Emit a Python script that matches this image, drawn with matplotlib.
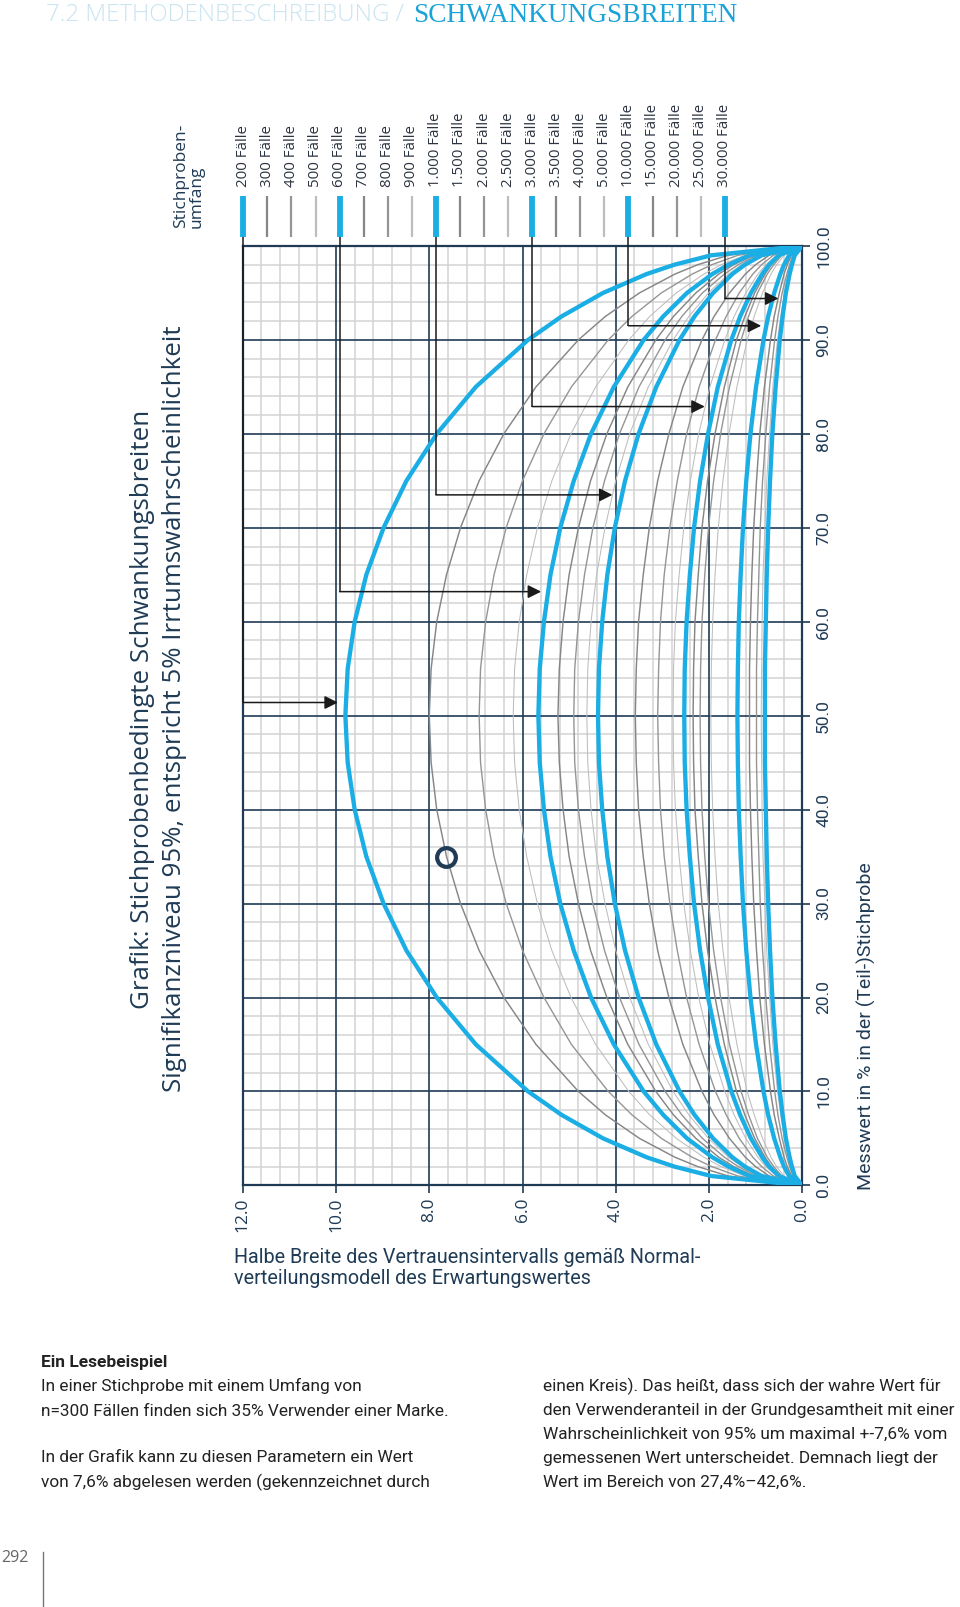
import matplotlib
matplotlib.use("Agg")
import matplotlib.pyplot as plt
import numpy as np

# ---------------- data ----------------
MESSWERT = [0, 1, 2, 3, 5, 7.5, 10, 15, 20, 25, 30, 35, 40, 45, 50,
            55, 60, 65, 70, 75, 80, 85, 90, 92.5, 95, 97, 98, 99, 100]

W_200 = [0, 1.95, 2.74, 3.34, 4.27, 5.16, 5.88, 7.00, 7.84, 8.49, 8.98, 9.35, 9.60, 9.75, 9.80, 9.75, 9.60, 9.35, 8.98, 8.49, 7.84, 7.00, 5.88, 5.16, 4.27, 3.34, 2.74, 1.95, 0]
W_300 = [0, 1.59, 2.24, 2.73, 3.49, 4.22, 4.80, 5.71, 6.40, 6.93, 7.33, 7.63, 7.84, 7.96, 8.00, 7.96, 7.84, 7.63, 7.33, 6.93, 6.40, 5.71, 4.80, 4.22, 3.49, 2.73, 2.24, 1.59, 0]
W_400 = [0, 1.38, 1.94, 2.36, 3.02, 3.65, 4.16, 4.95, 5.54, 6.00, 6.35, 6.61, 6.79, 6.90, 6.93, 6.90, 6.79, 6.61, 6.35, 6.00, 5.54, 4.95, 4.16, 3.65, 3.02, 2.36, 1.94, 1.38, 0]
W_500 = [0, 1.23, 1.74, 2.11, 2.70, 3.27, 3.72, 4.43, 4.96, 5.37, 5.68, 5.91, 6.07, 6.17, 6.20, 6.17, 6.07, 5.91, 5.68, 5.37, 4.96, 4.43, 3.72, 3.27, 2.70, 2.11, 1.74, 1.23, 0]
W_600 = [0, 1.13, 1.58, 1.93, 2.47, 2.98, 3.40, 4.04, 4.53, 4.90, 5.19, 5.40, 5.54, 5.63, 5.66, 5.63, 5.54, 5.40, 5.19, 4.90, 4.53, 4.04, 3.40, 2.98, 2.47, 1.93, 1.58, 1.13, 0]
W_700 = [0, 1.04, 1.47, 1.79, 2.28, 2.76, 3.14, 3.74, 4.19, 4.54, 4.80, 5.00, 5.13, 5.21, 5.24, 5.21, 5.13, 5.00, 4.80, 4.54, 4.19, 3.74, 3.14, 2.76, 2.28, 1.79, 1.47, 1.04, 0]
W_800 = [0, 0.98, 1.37, 1.67, 2.14, 2.58, 2.94, 3.50, 3.92, 4.24, 4.49, 4.67, 4.80, 4.88, 4.90, 4.88, 4.80, 4.67, 4.49, 4.24, 3.92, 3.50, 2.94, 2.58, 2.14, 1.67, 1.37, 0.98, 0]
W_900 = [0, 0.92, 1.29, 1.58, 2.01, 2.43, 2.77, 3.30, 3.70, 4.00, 4.23, 4.41, 4.53, 4.60, 4.62, 4.60, 4.53, 4.41, 4.23, 4.00, 3.70, 3.30, 2.77, 2.43, 2.01, 1.58, 1.29, 0.92, 0]
W_1000 = [0, 0.87, 1.23, 1.50, 1.91, 2.31, 2.63, 3.13, 3.51, 3.80, 4.02, 4.18, 4.29, 4.36, 4.38, 4.36, 4.29, 4.18, 4.02, 3.80, 3.51, 3.13, 2.63, 2.31, 1.91, 1.50, 1.23, 0.87, 0]
W_1500 = [0, 0.71, 1.00, 1.22, 1.56, 1.89, 2.15, 2.56, 2.86, 3.10, 3.28, 3.41, 3.51, 3.56, 3.58, 3.56, 3.51, 3.41, 3.28, 3.10, 2.86, 2.56, 2.15, 1.89, 1.56, 1.22, 1.00, 0.71, 0]
W_2000 = [0, 0.62, 0.87, 1.06, 1.35, 1.63, 1.86, 2.21, 2.48, 2.68, 2.84, 2.96, 3.04, 3.08, 3.10, 3.08, 3.04, 2.96, 2.84, 2.68, 2.48, 2.21, 1.86, 1.63, 1.35, 1.06, 0.87, 0.62, 0]
W_2500 = [0, 0.55, 0.78, 0.95, 1.21, 1.46, 1.66, 1.98, 2.22, 2.40, 2.54, 2.64, 2.72, 2.76, 2.77, 2.76, 2.72, 2.64, 2.54, 2.40, 2.22, 1.98, 1.66, 1.46, 1.21, 0.95, 0.78, 0.55, 0]
W_3000 = [0, 0.50, 0.71, 0.86, 1.10, 1.33, 1.52, 1.81, 2.02, 2.19, 2.32, 2.41, 2.48, 2.52, 2.53, 2.52, 2.48, 2.41, 2.32, 2.19, 2.02, 1.81, 1.52, 1.33, 1.10, 0.86, 0.71, 0.50, 0]
W_3500 = [0, 0.47, 0.66, 0.80, 1.02, 1.23, 1.41, 1.67, 1.87, 2.03, 2.15, 2.23, 2.30, 2.33, 2.34, 2.33, 2.30, 2.23, 2.15, 2.03, 1.87, 1.67, 1.41, 1.23, 1.02, 0.80, 0.66, 0.47, 0]
W_4000 = [0, 0.44, 0.61, 0.75, 0.96, 1.15, 1.31, 1.56, 1.75, 1.90, 2.01, 2.09, 2.15, 2.18, 2.19, 2.18, 2.15, 2.09, 2.01, 1.90, 1.75, 1.56, 1.31, 1.15, 0.96, 0.75, 0.61, 0.44, 0]
W_5000 = [0, 0.39, 0.55, 0.67, 0.85, 1.03, 1.18, 1.40, 1.57, 1.70, 1.80, 1.87, 1.92, 1.95, 1.96, 1.95, 1.92, 1.87, 1.80, 1.70, 1.57, 1.40, 1.18, 1.03, 0.85, 0.67, 0.55, 0.39, 0]
W_10000 = [0, 0.28, 0.39, 0.47, 0.60, 0.73, 0.83, 0.99, 1.11, 1.20, 1.27, 1.32, 1.36, 1.38, 1.39, 1.38, 1.36, 1.32, 1.27, 1.20, 1.11, 0.99, 0.83, 0.73, 0.60, 0.47, 0.39, 0.28, 0]
W_15000 = [0, 0.23, 0.32, 0.39, 0.49, 0.60, 0.68, 0.81, 0.91, 0.98, 1.04, 1.08, 1.11, 1.13, 1.13, 1.13, 1.11, 1.08, 1.04, 0.98, 0.91, 0.81, 0.68, 0.60, 0.49, 0.39, 0.32, 0.23, 0]
W_20000 = [0, 0.20, 0.27, 0.33, 0.43, 0.52, 0.59, 0.70, 0.78, 0.85, 0.90, 0.93, 0.96, 0.98, 0.98, 0.98, 0.96, 0.93, 0.90, 0.85, 0.78, 0.70, 0.59, 0.52, 0.43, 0.33, 0.27, 0.20, 0]
W_25000 = [0, 0.17, 0.25, 0.30, 0.38, 0.46, 0.53, 0.63, 0.70, 0.76, 0.80, 0.84, 0.86, 0.87, 0.88, 0.87, 0.86, 0.84, 0.80, 0.76, 0.70, 0.63, 0.53, 0.46, 0.38, 0.30, 0.25, 0.17, 0]
W_30000 = [0, 0.16, 0.22, 0.27, 0.35, 0.42, 0.48, 0.57, 0.64, 0.69, 0.73, 0.76, 0.78, 0.80, 0.80, 0.80, 0.78, 0.76, 0.73, 0.69, 0.64, 0.57, 0.48, 0.42, 0.35, 0.27, 0.22, 0.16, 0]

LABELS = ["200 Fälle", "300 Fälle", "400 Fälle", "500 Fälle", "600 Fälle",
          "700 Fälle", "800 Fälle", "900 Fälle", "1.000 Fälle", "1.500 Fälle",
          "2.000 Fälle", "2.500 Fälle", "3.000 Fälle", "3.500 Fälle", "4.000 Fälle",
          "5.000 Fälle", "10.000 Fälle", "15.000 Fälle", "20.000 Fälle",
          "25.000 Fälle", "30.000 Fälle"]
CURVES = [W_200, W_300, W_400, W_500, W_600, W_700, W_800, W_900, W_1000,
          W_1500, W_2000, W_2500, W_3000, W_3500, W_4000, W_5000, W_10000,
          W_15000, W_20000, W_25000, W_30000]
HIGHLIGHT = [True, False, False, False, True, False, False, False, True,
             False, False, False, True, False, False, False, True,
             False, False, False, True]

# leader arrows for the highlighted sizes: Messwert level and tip (half width)
ARROW_Y = [51.4, 63.2, 73.5, 82.9, 91.5, 94.4]
ARROW_TIP = [9.96, 5.60, 4.07, 2.09, 0.88, 0.51]

# reading example: n=300, p=35 %, half width 7.6 %
EXAMPLE_X = 7.65
EXAMPLE_Y = 35

HALF_TICKS = [12, 10, 8, 6, 4, 2, 0]
HALF_TICKLABELS = ["12.0", "10.0", "8.0", "6.0", "4.0", "2.0", "0.0"]
MESS_TICKS = [0, 10, 20, 30, 40, 50, 60, 70, 80, 90, 100]
MESS_TICKLABELS = ["0.0", "10.0", "20.0", "30.0", "40.0", "50.0", "60.0",
                   "70.0", "80.0", "90.0", "100.0"]

# ---------------- style ----------------
NAVY = "#1f3b55"
BLUE = "#1aaee5"
GRAY_STYLES = ["#868686", "#959595", "#bdbdbd"]
GRAY_LW = [1.05, 1.0, 0.75]
FONT = ["Open Sans", "DejaVu Sans"]
FONT2 = ["Roboto", "DejaVu Sans"]

plt.rcParams["font.family"] = FONT

W, H = 960, 1607
fig = plt.figure(figsize=(W / 100, H / 100), dpi=100)
fig.patch.set_facecolor("white")

ax_l, ax_r, ax_t, ax_b = 242.8, 802.2, 245.9, 1185.4
ax = fig.add_axes([ax_l / W, 1 - ax_b / H, (ax_r - ax_l) / W, (ax_b - ax_t) / H])
ax.set_xlim(12, 0)
ax.set_ylim(0, 100)

# grid
ax.set_xticks(np.arange(0, 12.01, 0.4), minor=True)
ax.set_yticks(np.arange(0, 100.1, 2), minor=True)
ax.set_axisbelow(True)
ax.grid(which="minor", color="#d3d3d3", lw=1.1)
for v in HALF_TICKS:
    ax.axvline(v, color=NAVY, lw=1.2, zorder=1)
for v in MESS_TICKS:
    ax.axhline(v, color=NAVY, lw=1.2, zorder=1)

ax.set_xticks(HALF_TICKS)
ax.set_xticklabels(HALF_TICKLABELS)
ax.set_yticks(MESS_TICKS)
ax.set_yticklabels(MESS_TICKLABELS)
ax.yaxis.tick_right()
ax.tick_params(which="major", direction="out", length=6, width=1.2, color=NAVY,
               labelcolor=NAVY, labelsize=12.5)
ax.tick_params(axis="x", labelrotation=90, pad=3)
ax.tick_params(axis="y", labelrotation=90, pad=4)
ax.tick_params(which="minor", length=0)
for lab in ax.get_yticklabels():
    lab.set_va("center")
    lab.set_family(FONT2)
for s in ax.spines.values():
    s.set_color(NAVY)
    s.set_linewidth(1.6)

# curves
gi = 0
for i, (w, hl) in enumerate(zip(CURVES, HIGHLIGHT)):
    if hl:
        continue
    ax.plot(w, MESSWERT, color=GRAY_STYLES[gi % 3], lw=GRAY_LW[gi % 3], zorder=3,
            solid_joinstyle="round")
    gi += 1
for i, (w, hl) in enumerate(zip(CURVES, HIGHLIGHT)):
    if hl:
        ax.plot(w, MESSWERT, color=BLUE, lw=3.1, zorder=4, solid_joinstyle="round",
                solid_capstyle="round")

# legend (short segments + rotated labels above the plot)
step = 0.04303
gi = 0
hi = 0
for i, (lab, hl) in enumerate(zip(LABELS, HIGHLIGHT)):
    xf = 0.0009 + step * i
    xd = 12 * (1 - xf)
    if hl:
        col, lw = BLUE, 4.2
    else:
        col, lw = GRAY_STYLES[gi % 3], 1.6
        gi += 1
    ax.plot([xd, xd], [101.0, 105.3], color=col, lw=lw, clip_on=False,
            solid_capstyle="butt", zorder=5)
    ax.text(xd, 106.3, lab, rotation=90, ha="center", va="bottom", fontsize=10.8,
            color="#2b3440", clip_on=False)
    if hl:
        y = ARROW_Y[hi]
        ax.plot([xd, xd], [101.0, y], color="#1a1a1a", lw=1.1, clip_on=False,
                zorder=6, solid_capstyle="butt")
        ax.annotate("", xy=(ARROW_TIP[hi], y), xytext=(xd, y),
                    arrowprops=dict(arrowstyle="-|>", mutation_scale=20,
                                    color="#1a1a1a", lw=1.1, shrinkA=0, shrinkB=0),
                    zorder=6, annotation_clip=False)
        hi += 1

# example circle
ax.plot([EXAMPLE_X], [EXAMPLE_Y], marker="o", ms=13.5, mfc="none", mec=NAVY,
        mew=3.0, zorder=7)

# titles
def fx(px):
    return px / W


def fy(py):
    return 1 - py / H


fig.text(fx(143), fy(709), "Grafik: Stichprobenbedingte Schwankungsbreiten",
         rotation=90, ha="center", va="center", fontsize=18.6, color=NAVY)
fig.text(fx(175), fy(709), "Signifikanzniveau 95%, entspricht 5% Irrtumswahrscheinlichkeit",
         rotation=90, ha="center", va="center", fontsize=18.6, color=NAVY)
fig.text(fx(189), fy(228), "Stichproben-\numfang", rotation=90, ha="center",
         va="bottom", multialignment="left", fontsize=12.5, color=NAVY, linespacing=1.0)

# axis titles
fig.text(fx(866), fy(1190), "Messwert in % in der (Teil-)Stichprobe", rotation=90,
         ha="center", va="bottom", fontsize=14, color=NAVY, family=FONT2)
fig.text(fx(234), fy(1268), "Halbe Breite des Vertrauensintervalls gemäß Normal-\n"
         "verteilungsmodell des Erwartungswertes", ha="left", va="center",
         fontsize=14.2, color=NAVY, linespacing=1.18, family=FONT2)

# header
fig.text(fx(46), fy(15), "7.2 METHODENBESCHREIBUNG /", ha="left", va="center",
         fontsize=17.4, color="#c9e4f1", fontweight="light")
fig.text(fx(413), fy(15), "SCHWANKUNGSBREITEN", ha="left", va="center",
         fontsize=19.6, color="#1aa3d8", family=["Liberation Serif", "DejaVu Serif"])

# reading example text
TXT = "#222222"
fig.text(fx(41), fy(1363), "Ein Lesebeispiel", ha="left", va="center",
         fontsize=12.5, fontweight="bold", color=TXT, family=FONT2)
left_lines = [
    (1386, "In einer Stichprobe mit einem Umfang von"),
    (1411, "n=300 Fällen finden sich 35% Verwender einer Marke."),
    (1458, "In der Grafik kann zu diesen Parametern ein Wert"),
    (1482, "von 7,6% abgelesen werden (gekennzeichnet durch"),
]
right_lines = [
    (1386, "einen Kreis). Das heißt, dass sich der wahre Wert für"),
    (1411, "den Verwenderanteil in der Grundgesamtheit mit einer"),
    (1434, "Wahrscheinlichkeit von 95% um maximal +-7,6% vom"),
    (1458, "gemessenen Wert unterscheidet. Demnach liegt der"),
    (1482, "Wert im Bereich von 27,4%–42,6%."),
]
for y, t in left_lines:
    fig.text(fx(41), fy(y), t, ha="left", va="center", fontsize=12.4, color=TXT,
             family=FONT2)
for y, t in right_lines:
    fig.text(fx(543), fy(y), t, ha="left", va="center", fontsize=12.4, color=TXT,
             family=FONT2)

# page number
fig.text(fx(1), fy(1558), "292", ha="left", va="center", fontsize=11.5, color="#666666")
fig.add_artist(plt.Line2D([fx(43), fx(43)], [fy(1552), 0], color="#777777", lw=1.0))

fig.savefig("out.png", dpi=100, facecolor="white")
